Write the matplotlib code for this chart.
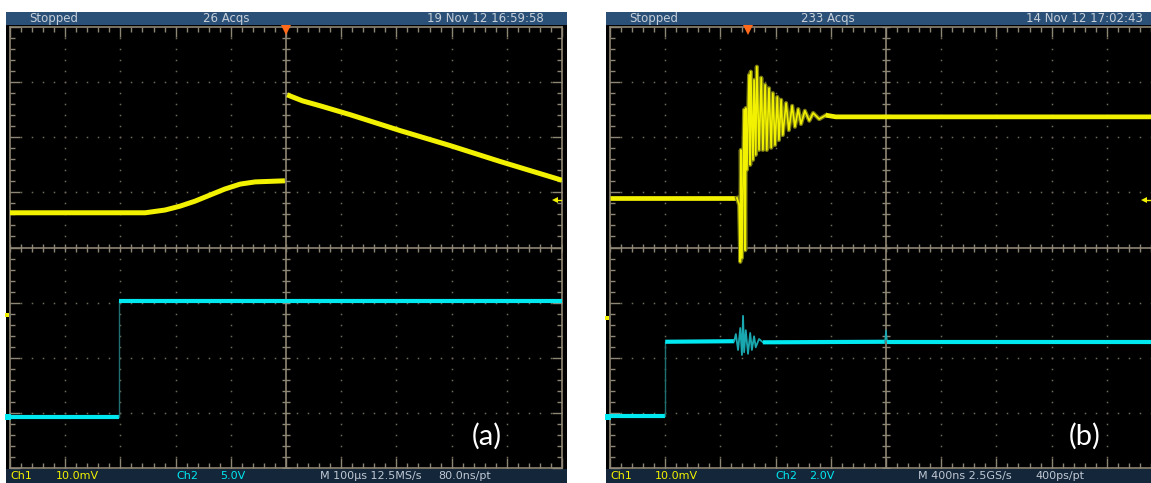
import numpy as np
import matplotlib
matplotlib.use("Agg")
import matplotlib.pyplot as plt
from matplotlib.patches import Rectangle

# screen coordinates are in scope divisions: time -5..5, volts -4..4

# (a) channel 1 (yellow)
a_ch1_pre_t = [-5.0, -2.55, -2.19, -1.92, -1.65, -1.38, -1.11, -0.83, -0.56, -0.02]
a_ch1_pre_v = [0.63, 0.63, 0.68, 0.75, 0.84, 0.95, 1.06, 1.15, 1.19, 1.21]
a_ch1_post_t = [0.02, 0.30, 0.62, 1.16, 2.07, 2.97, 3.88, 5.0]
a_ch1_post_v = [2.77, 2.66, 2.57, 2.41, 2.12, 1.85, 1.56, 1.22]
# (a) channel 2 (cyan) step
a_ch2_t = [-5.0, -3.03, -3.03, 5.0]
a_ch2_v = [-3.07, -3.07, -0.97, -0.97]

# (b) channel 1 (yellow) with ringing
b_ch1_t = [-5.0, -2.70, -2.66, -2.64, -2.63, -2.61, -2.57, -2.55, -2.54, -2.52, -2.48,
           -2.46, -2.45, -2.41, -2.39, -2.36, -2.34, -2.30, -2.26, -2.23, -2.19, -2.16,
           -2.12, -2.08, -2.05, -2.01, -1.97, -1.94, -1.90, -1.87, -1.81, -1.76, -1.70,
           -1.65, -1.59, -1.54, -1.47, -1.39, -1.32, -1.21, -1.09, -0.91, 5.5]
b_ch1_v = [0.90, 0.90, 0.77, -0.26, 1.77, -0.19, 2.50, -0.05, 2.53, 1.41, 3.13,
           1.50, 3.19, 1.59, 3.04, 1.68, 3.28, 1.77, 3.08, 1.77, 2.95, 1.77,
           2.89, 1.81, 2.80, 1.86, 2.73, 1.95, 2.68, 2.04, 2.62, 2.13, 2.57,
           2.19, 2.51, 2.24, 2.48, 2.30, 2.44, 2.33, 2.40, 2.37, 2.37]
# (b) channel 2 (cyan)
b_ch2_t = [-5.0, -4.00, -4.00, -2.75, -2.72, -2.68, -2.64, -2.61, -2.59, -2.57, -2.54,
           -2.50, -2.46, -2.43, -2.39, -2.36, -2.30, -2.23, -0.02, 0.0, 0.02, 5.5]
b_ch2_v = [-3.06, -3.06, -1.71, -1.70, -1.57, -1.86, -1.46, -1.95, -1.24, -1.90, -1.50,
           -1.93, -1.55, -1.86, -1.61, -1.81, -1.66, -1.72, -1.71, -1.50, -1.71, -1.71]

status_left = ["Stopped", "26 Acqs", "19 Nov 12 16:59:58"]
status_right = ["Stopped", "233 Acqs", "14 Nov 12 17:02:43"]
scale_left = ["Ch1", "10.0mV", "Ch2", "5.0V", "M 100µs 12.5MS/s", "80.0ns/pt"]
scale_right = ["Ch1", "10.0mV", "Ch2", "2.0V", "M 400ns 2.5GS/s", "400ps/pt"]
trigger_t = [0.0, -2.50]
panel_tags = ["(a)", "(b)"]

W, H = 1151, 483
YEL = "#f2f200"
CYN = "#00e8f0"
GRID = "#8e8674"
NARROW = ["Liberation Sans Narrow", "DejaVu Sans"]

fig = plt.figure(figsize=(W / 100, H / 100), dpi=100)
fig.patch.set_facecolor("white")


def rect(x0, y0, x1, y1):
    return [x0 / W, 1 - y1 / H, (x1 - x0) / W, (y1 - y0) / H]


def fig_box(x0, y0, x1, y1, color):
    r = rect(x0, y0, x1, y1)
    fig.add_artist(Rectangle((r[0], r[1]), r[2], r[3], transform=fig.transFigure,
                             facecolor=color, edgecolor="none", zorder=0))


def ftext(x, y, s, color, size=8.5, ha="left", family=NARROW):
    fig.text(x / W, 1 - y / H, s, color=color, fontsize=size, ha=ha, va="center",
             family=family)


def screen(gx0):
    ax = fig.add_axes(rect(gx0, 27, gx0 + 552, 468))
    ax.set_facecolor("black")
    ax.set_xlim(-5, 5)
    ax.set_ylim(-4, 4)
    for s in ax.spines.values():
        s.set_color(GRID)
        s.set_linewidth(1.2)
    ax.set_xticks(np.arange(-5, 6, 1))
    ax.set_yticks(np.arange(-4, 5, 1))
    ax.set_xticks(np.arange(-5, 5.01, 0.2), minor=True)
    ax.set_yticks(np.arange(-4, 4.01, 0.2), minor=True)
    ax.tick_params(which="both", direction="in", top=True, right=True,
                   labelbottom=False, labelleft=False, color=GRID, width=1)
    ax.tick_params(which="major", length=7)
    ax.tick_params(which="minor", length=3.5)
    # dotted grid
    for g in range(-4, 5):
        if g == 0:
            continue
        ys = np.arange(-4, 4.01, 0.2)
        ax.plot(np.full_like(ys, g), ys, ls="none", marker="s", ms=1.1, mew=0,
                color="#6f6a58", zorder=1)
    for g in range(-3, 4):
        if g == 0:
            continue
        xs = np.arange(-5, 5.01, 0.2)
        ax.plot(xs, np.full_like(xs, g), ls="none", marker="s", ms=1.1, mew=0,
                color="#6f6a58", zorder=1)
    # centre cross
    xs = np.arange(-5, 5.01, 0.2)
    ys = np.arange(-4, 4.01, 0.2)
    ax.plot(xs, np.zeros_like(xs), color=GRID, lw=1.2, marker="|", ms=6, mew=1, zorder=1)
    ax.plot(np.zeros_like(ys), ys, color=GRID, lw=1.2, marker="_", ms=6, mew=1, zorder=1)
    return ax


# panel backgrounds and bars
for bx0, bx1 in [(6, 567), (606, 1151)]:
    fig_box(bx0, 25, bx1, 469, "black")
    fig_box(bx0, 12, bx1, 25, "#2a5078")
    fig_box(bx0, 469, bx1, 483, "#14263a")

axL = screen(10)
axR = screen(610)

# traces (a)
axL.plot(a_ch1_pre_t, a_ch1_pre_v, color=YEL, lw=3.6, solid_capstyle="butt", zorder=3)
axL.plot(a_ch1_post_t, a_ch1_post_v, color=YEL, lw=3.6, solid_capstyle="butt", zorder=3)
axL.plot(a_ch2_t[:2], a_ch2_v[:2], color=CYN, lw=3, solid_capstyle="butt", zorder=3)
axL.plot(a_ch2_t[1:3], a_ch2_v[1:3], color="#1f6f70", lw=1, zorder=3)
axL.plot(a_ch2_t[2:], a_ch2_v[2:], color=CYN, lw=3, solid_capstyle="butt", zorder=3)

# traces (b)
axR.plot(b_ch1_t[:2], b_ch1_v[:2], color=YEL, lw=3.4, solid_capstyle="butt", zorder=3)
axR.plot(b_ch1_t[1:-2], b_ch1_v[1:-2], color="#7a7a12", lw=3, zorder=3)
axR.plot(b_ch1_t[1:-2], b_ch1_v[1:-2], color=YEL, lw=1.2, zorder=4)
axR.plot(b_ch1_t[-3:], b_ch1_v[-3:], color=YEL, lw=3.4, solid_capstyle="butt", zorder=3)
axR.plot(b_ch2_t[:2], b_ch2_v[:2], color=CYN, lw=3, solid_capstyle="butt", zorder=3)
axR.plot(b_ch2_t[1:3], b_ch2_v[1:3], color="#1f6f70", lw=1, zorder=3)
axR.plot(b_ch2_t[2:4], b_ch2_v[2:4], color=CYN, lw=3, solid_capstyle="butt", zorder=3)
axR.plot(b_ch2_t[3:18], b_ch2_v[3:18], color="#1aa8b0", lw=1.3, zorder=3)
axR.plot(b_ch2_t[17:19], b_ch2_v[17:19], color=CYN, lw=3, solid_capstyle="butt", zorder=3)
axR.plot(b_ch2_t[18:21], b_ch2_v[18:21], color="#1aa8b0", lw=1, zorder=3)
axR.plot(b_ch2_t[20:], b_ch2_v[20:], color=CYN, lw=3, solid_capstyle="butt", zorder=3)

# markers
for ax, tt, arrow_t, sq_v in [(axL, trigger_t[0], 4.87, -1.23), (axR, trigger_t[1], 4.67, -1.28)]:
    ax.plot([tt], [3.95], marker="v", ms=7, color="#ff6a1a", mew=0, clip_on=False, zorder=6)
    ax.plot([arrow_t], [0.86], marker="<", ms=4, color=YEL, mew=0, clip_on=False, zorder=6)
    ax.plot([arrow_t, arrow_t + 0.12], [0.86, 0.86], color=YEL, lw=1, clip_on=False, zorder=6)
    ax.plot([-5.05], [sq_v], marker="s", ms=3.5, color=YEL, mew=0, clip_on=False, zorder=6)
    ax.plot([-5.04], [-3.07], marker="s", ms=5, color=CYN, mew=0, clip_on=False, zorder=6)

# status bar texts
ftext(29, 18.5, status_left[0], "#c8d0da")
ftext(226, 18.5, status_left[1], "#c8d0da", ha="center")
ftext(427, 18.5, status_left[2], "#c8d0da")
ftext(629, 18.5, status_right[0], "#c8d0da")
ftext(828, 18.5, status_right[1], "#c8d0da", ha="center")
ftext(1026, 18.5, status_right[2], "#c8d0da")

for labels, xs in [(scale_left, [10, 56, 176, 220, 320, 438]),
                   (scale_right, [610, 655, 775, 809, 918, 1035])]:
    cols = [YEL, YEL, CYN, CYN, "#c0c8d2", "#c0c8d2"]
    for s, x, c in zip(labels, xs, cols):
        ftext(x, 476, s, c, size=8)

ftext(487, 436, panel_tags[0], "white", size=21, ha="center", family=["Lato", "DejaVu Sans"])
ftext(1085, 436, panel_tags[1], "white", size=21, ha="center", family=["Lato", "DejaVu Sans"])

fig.savefig("out.png", dpi=100, facecolor="white")
